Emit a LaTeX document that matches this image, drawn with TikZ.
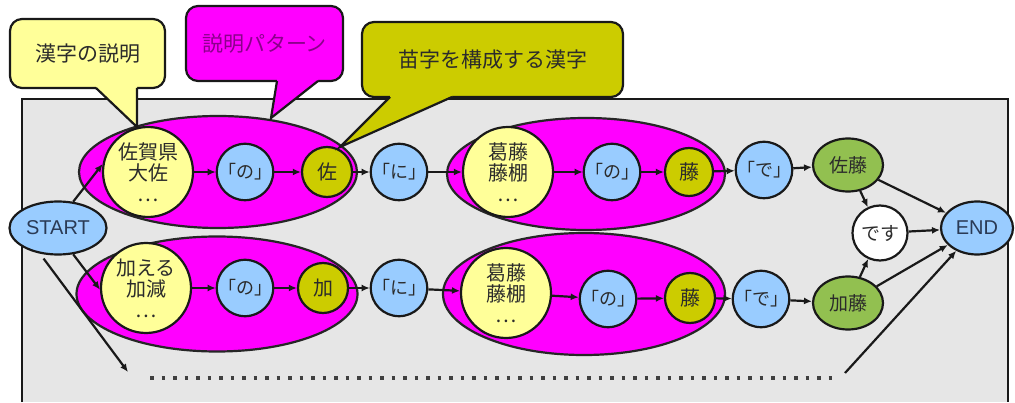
\documentclass[tikz,border=0pt]{standalone}
\usepackage{fontspec}
\setmainfont{Liberation Sans}
\newfontfamily\jp{Noto Sans CJK JP}
\usetikzlibrary{shapes.geometric,arrows.meta}
\definecolor{mag}{HTML}{FF00FF}
\definecolor{ylw}{HTML}{FFFF99}
\definecolor{blu}{HTML}{99CCFF}
\definecolor{olv}{HTML}{CCCC00}
\definecolor{grn}{HTML}{92C050}
\definecolor{bgg}{HTML}{E6E6E6}
\definecolor{txt}{HTML}{2B2B2B}
\definecolor{termtxt}{HTML}{2A3A55}
\definecolor{magtxt}{HTML}{8B008B}
\begin{document}
\begin{tikzpicture}[x=1pt,y=-1pt,
  ln/.style={line width=2.2pt, draw=black!90},
  arr/.style={ln, -{Latex[length=8pt,width=7pt]}},
  blob/.style={ellipse, fill=mag, draw=black!85, line width=2.2pt, inner sep=0pt},
  nd/.style={draw=black!90, line width=2.2pt, inner sep=0pt, text=txt, align=center},
  ycirc/.style={nd, circle, fill=ylw, minimum size=90pt, font=\jp\fontsize{20}{21}\selectfont},
  bcirc/.style={nd, circle, fill=blu, minimum size=52pt, font=\jp\fontsize{18}{18}\selectfont},
  ocirc/.style={nd, circle, fill=olv, minimum size=50pt, font=\jp\fontsize{20}{20}\selectfont},
  gell/.style={nd, ellipse, fill=grn, minimum width=70pt, minimum height=53pt, font=\jp\fontsize{19}{19}\selectfont},
  wcirc/.style={nd, circle, fill=white, minimum size=55pt, font=\jp\fontsize{19}{19}\selectfont},
  term/.style={nd, ellipse, fill=blu, minimum height=53pt, font=\fontsize{20}{20}\selectfont, text=termtxt},
  callbox/.style={ln, rounded corners=12pt, inner sep=0pt, font=\jp\fontsize{21}{21}\selectfont, text=txt},
  dots/.style={line width=3.5pt, dash pattern=on 3.5pt off 8pt, draw=black!75}
]
\useasboundingbox (0,0) rectangle (1015,403);
% background panel
\fill[bgg] (22,99) rectangle (1008,402);
\draw[ln] (22,402) -- (22,99) -- (1008,99) -- (1008,402);

% pattern blobs
\node[blob, minimum width=278pt, minimum height=112pt] (b1) at (218,172) {};
\node[blob, minimum width=278pt, minimum height=112pt] (b2) at (586,174) {};
\node[blob, minimum width=281pt, minimum height=115pt] (b3) at (217,294) {};
\node[blob, minimum width=282pt, minimum height=122pt] (b4) at (584,294) {};

% nodes
\node[term, minimum width=97pt] (start) at (58,228) {START};
\node[term, minimum width=72pt] (end) at (977,228) {END};

\node[ycirc] (y1) at (148,172) {佐賀県\\大佐\\…};
\node[bcirc] (no1) at (245,172) {「の」};
\node[ocirc] (sa) at (327,172) {佐};
\node[bcirc] (ni1) at (399,172) {「に」};
\node[ycirc] (y2) at (508,172) {葛藤\\藤棚\\…};
\node[bcirc, minimum size=50pt] (no2) at (612,172) {「の」};
\node[ocirc, minimum size=48pt] (fu1) at (689,172) {藤};
\node[bcirc] (de1) at (764,170) {「で」};
\node[gell] (sato) at (848,165) {佐藤};

\node[wcirc] (desu) at (880,233) {です};

\node[ycirc] (y3) at (146,288) {加える\\加減\\…};
\node[bcirc, minimum size=50pt] (no3) at (245,288) {「の」};
\node[ocirc] (ka) at (323,288) {加};
\node[bcirc, minimum size=54pt] (ni2) at (399,288) {「に」};
\node[ycirc] (y4) at (506,293) {葛藤\\藤棚\\…};
\node[bcirc, minimum size=50pt] (no4) at (608,299) {「の」};
\node[ocirc] (fu2) at (690,298) {藤};
\node[bcirc] (de2) at (761,299) {「で」};
\node[gell] (kato) at (848,303) {加藤};

\coordinate (dA) at (150,378);
\coordinate (dB) at (837,378);
\coordinate (dTip) at (128,372);
\coordinate (dEnd) at (845,373);

% connectors
\draw[arr] (start.60) -- (y1.170);
\draw[arr] (start.-60) -- (y3.182);
\draw[arr, shorten <=6pt] (start.235) -- (dTip);

\draw[arr] (y1) -- (no1);
\draw[arr] (no1) -- (sa);
\draw[arr] (sa) -- (ni1);
\draw[arr] (ni1) -- (y2);
\draw[arr] (y2) -- (no2);
\draw[arr] (no2) -- (fu1);
\draw[arr] (fu1) -- (de1);
\draw[arr] (de1) -- (sato);

\draw[arr] (y3) -- (no3);
\draw[arr] (no3) -- (ka);
\draw[arr] (ka) -- (ni2);
\draw[arr] (ni2) -- (y4);
\draw[arr] (y4) -- (no4);
\draw[arr] (no4) -- (fu2);
\draw[arr] (fu2) -- (de2);
\draw[arr] (de2) -- (kato);

\draw[arr] (sato) -- (desu);
\draw[arr] (kato) -- (desu);
\draw[arr] (desu) -- (end);
\draw[arr] (sato) -- (end);
\draw[arr] (kato) -- (end);
\draw[dots] (dA) -- (dB);
\draw[arr] (dEnd) -- (end);

% callouts
\node[callbox, fill=ylw, minimum width=155pt, minimum height=69pt] (c1) at (87.5,53.5) {漢字の説明};
\fill[ylw] (96,84) -- (96,88) -- (137,127) -- (137,84) -- cycle;
\draw[ln, line join=miter] (96,88) -- (137,127) -- (137,88);

\node[callbox, fill=mag, text=magtxt, minimum width=157pt, minimum height=75pt] (c2) at (264.5,43.5) {説明パターン};
\fill[mag] (277,77) -- (277,81) -- (271,118) -- (318,81) -- (318,77) -- cycle;
\draw[ln, line join=miter] (277,81) -- (271,118) -- (318,81);

\node[callbox, fill=olv, minimum width=261pt, minimum height=75pt] (c3) at (492.5,59.5) {苗字を構成する漢字};
\fill[olv] (390,93) -- (390,97) -- (340,147) -- (452,97) -- (452,93) -- cycle;
\draw[ln, line join=miter] (390,97) -- (340,147) -- (452,97);
\end{tikzpicture}
\end{document}
